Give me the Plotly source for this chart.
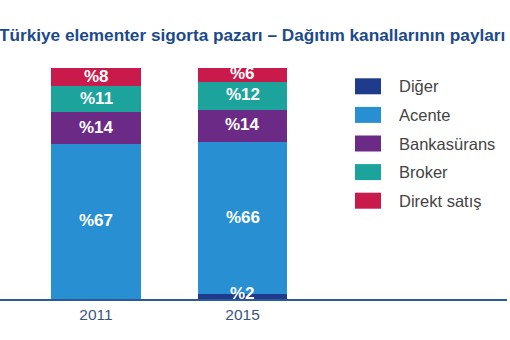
import plotly.graph_objects as go

# Distribution channel shares (%) in the Turkish non-life insurance market
years = ["2011", "2015"]
channels = ["Diğer", "Acente", "Bankasürans", "Broker", "Direkt satış"]
diger = [0, 2]
acente = [67, 66]
bankasurans = [14, 14]
broker = [11, 12]
direkt = [8, 6]
series = [diger, acente, bankasurans, broker, direkt]
colors = ["#1f3c8c", "#288fd3", "#6b2a85", "#1ca39c", "#c81a4b"]

title_text = "Türkiye elementer sigorta pazarı – Dağıtım kanallarının payları"

W, H = 510, 340
ML, MR, MT, MB = 0, 3, 68, 41
plot_w = W - ML - MR
plot_h = H - MT - MB

fig = go.Figure()
for name, vals, col in zip(channels, series, colors):
    fig.add_trace(go.Bar(
        x=[0, 1], y=vals, name=name, marker=dict(color=col, line=dict(width=0)),
        width=0.614, showlegend=False, hoverinfo="skip",
    ))

# value labels, centred in each segment (the small 2015 "Diğer" slice sits on its top edge)
annotations = []
for i in range(len(years)):
    base = 0
    for vals in series:
        v = vals[i]
        if v > 0:
            y = base + v if v < 4 else base + v / 2
            annotations.append(dict(
                x=i, y=y, xref="x", yref="y", text=f"<b>%{v}</b>", showarrow=False,
                yshift=1, font=dict(family="Liberation Sans", size=17, color="white"),
                xanchor="center", yanchor="middle",
            ))
        base += v

# legend: swatches and labels at the right
leg_x0, leg_x1 = 355, 381
leg_text_x = 397
leg_y0 = 86.3
leg_step = 28.6
shapes = []
for k, (name, col) in enumerate(zip(channels, colors)):
    cy = leg_y0 + k * leg_step
    shapes.append(dict(
        type="rect", xref="paper", yref="paper",
        x0=(leg_x0 - ML) / plot_w, x1=(leg_x1 - ML) / plot_w,
        y0=(H - MB - (cy + 8)) / plot_h, y1=(H - MB - (cy - 8)) / plot_h,
        fillcolor=col, line=dict(width=0),
    ))
    annotations.append(dict(
        xref="paper", yref="paper", x=(leg_text_x - ML) / plot_w,
        y=(H - MB - cy) / plot_h, text=name, showarrow=False,
        xanchor="left", yanchor="middle",
        font=dict(family="Liberation Sans", size=16.5, color="#444444"),
    ))

annotations.append(dict(
    xref="paper", yref="paper", x=(252 - ML) / plot_w, y=(H - MB - 35) / plot_h,
    text=f"<b>{title_text}</b>", showarrow=False, xanchor="center", yanchor="middle",
    font=dict(family="Liberation Sans", size=17.2, color="#1b4a8c"),
))

spacing = 146.5
x_start = -(96 - ML) / spacing
fig.update_layout(
    width=W, height=H,
    margin=dict(l=ML, r=MR, t=MT, b=MB, pad=0),
    paper_bgcolor="white", plot_bgcolor="white",
    barmode="stack",
    xaxis=dict(
        range=[x_start, x_start + plot_w / spacing],
        tickmode="array", tickvals=[0, 1], ticktext=years,
        showgrid=False, zeroline=False, showline=True,
        linecolor="#2a5a9a", linewidth=2, ticks="",
        tickfont=dict(family="Liberation Sans", size=15.5, color="#3a5583"),
    ),
    yaxis=dict(range=[0, 100], visible=False, showgrid=False, zeroline=False),
    shapes=shapes, annotations=annotations,
)

fig.write_html("out.html")
